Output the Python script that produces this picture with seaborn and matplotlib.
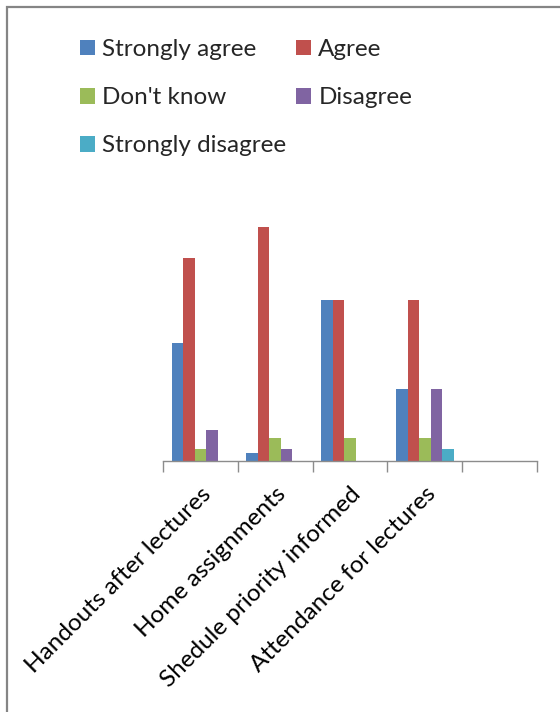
import matplotlib
matplotlib.use("Agg")
import matplotlib.pyplot as plt
import seaborn as sns
import pandas as pd
from matplotlib.patches import Rectangle, Patch

categories = ["Handouts after lectures", "Home assignments", "Shedule priority informed", "Attendance for lectures"]
axis_slots = categories + [""]
responses = ["Strongly agree", "Agree", "Don't know", "Disagree", "Strongly disagree"]
strongly_agree = [15.3, 1.0, 20.8, 9.3]
agree = [26.2, 30.2, 20.8, 20.8]
dont_know = [1.5, 3.0, 3.0, 3.0]
disagree = [4.0, 1.5, 0.0, 9.3]
strongly_disagree = [0.0, 0.0, 0.0, 1.5]
colors = ["#4F81BD", "#C0504D", "#9BBB59", "#8064A2", "#4BACC6"]

series = [strongly_agree, agree, dont_know, disagree, strongly_disagree]
rows = []
for resp, vals in zip(responses, series):
    for cat, v in zip(categories, vals):
        rows.append({"category": cat, "response": resp, "value": v})
df = pd.DataFrame(rows)

sns.set_theme(style="white")
plt.rcParams["font.family"] = ["Lato", "DejaVu Sans"]

W, H = 560, 712
FS = 17.5
fig = plt.figure(figsize=(W / 100, H / 100), dpi=100)
ax = fig.add_axes([163 / W, 1 - 461 / H, (537 - 163) / W, (461 - 190) / H])

sns.barplot(data=df, x="category", y="value", hue="response", order=axis_slots,
            hue_order=responses, palette=colors, width=0.77, saturation=1,
            errorbar=None, ax=ax, legend=False, linewidth=0)

ax.set_xlim(-0.5, 4.5)
ax.set_ylim(0, 35)
ax.set_xlabel("")
ax.set_ylabel("")
ax.set_yticks([])
for s in ["top", "right", "left"]:
    ax.spines[s].set_visible(False)
ax.spines["bottom"].set_color("#8c8c8c")
ax.spines["bottom"].set_linewidth(1.0)

ax.set_xticks(range(5))
ax.set_xticklabels(axis_slots, rotation=45, ha="right", va="top",
                   rotation_mode="anchor", fontsize=FS, color="#000000")
ax.tick_params(axis="x", which="major", length=0, pad=16, bottom=True)
ax.set_xticks([i - 0.5 for i in range(6)], minor=True)
ax.tick_params(axis="x", which="minor", length=8, width=1.0, color="#8c8c8c",
               direction="out", bottom=True)

# legend filled row-wise like the reference (matplotlib fills columns)
order = [0, 2, 4, 1, 3]
handles = [Patch(facecolor=colors[i], edgecolor="none") for i in order]
labels = [responses[i] for i in order]
leg = fig.legend(handles, labels, loc="upper left", bbox_to_anchor=(80 / W, 1 - 39 / H),
                 ncol=2, frameon=False, fontsize=FS, handlelength=0.62, handleheight=0.62,
                 handletextpad=0.29, columnspacing=0.41, labelspacing=1.12,
                 borderpad=0, borderaxespad=0)

fig.patches.append(Rectangle((7 / W, -0.1), 1.2, 1 - 7 / H + 0.1, transform=fig.transFigure,
                             fill=False, edgecolor="#858585", linewidth=1.6))

fig.savefig("out.png", dpi=100)
